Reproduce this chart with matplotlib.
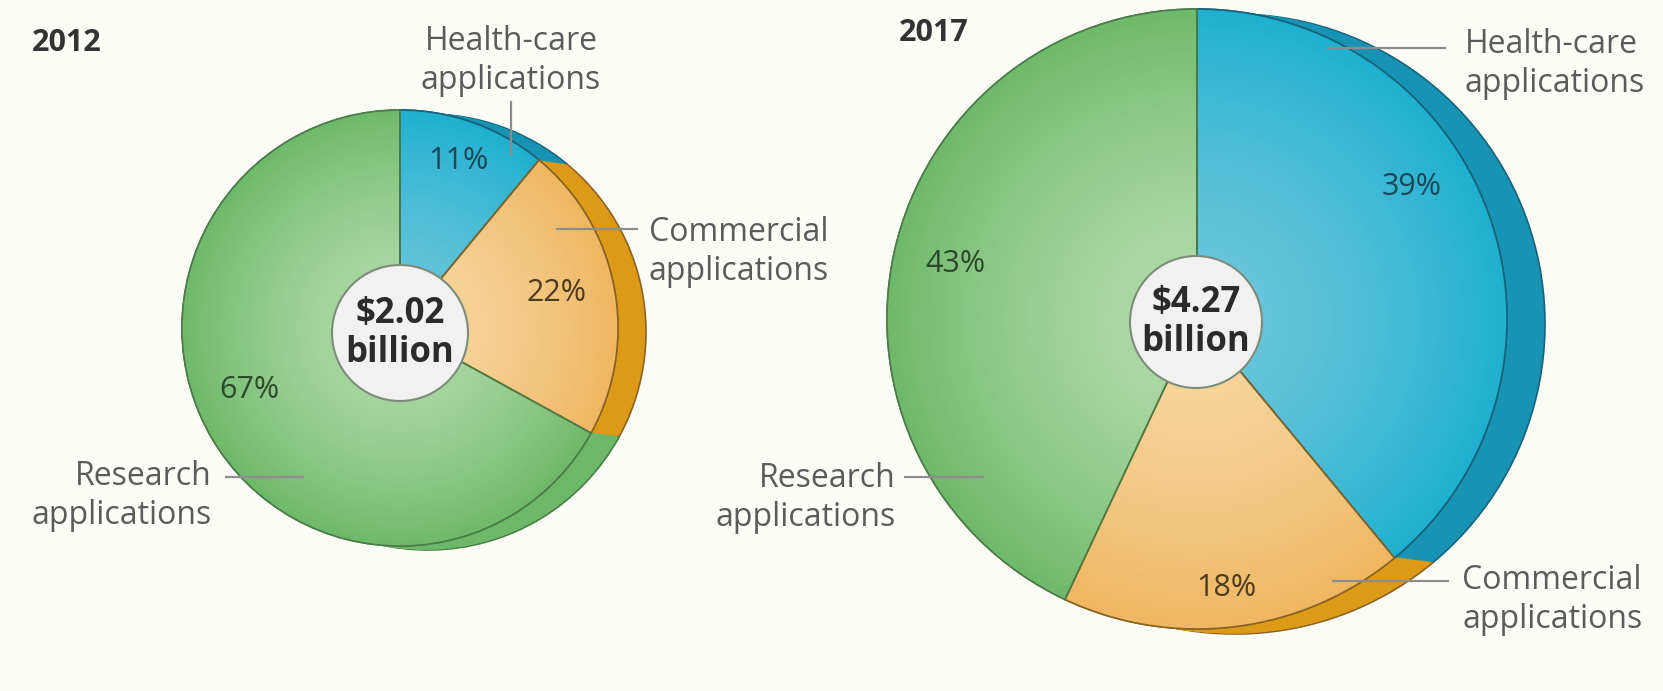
import numpy as np
import matplotlib.pyplot as plt
from matplotlib.patches import Circle, Wedge
from matplotlib.colors import to_rgb

plt.rcParams['font.family'] = ['Open Sans', 'DejaVu Sans']

# market split by application, in percent
years = ['2012', '2017']
totals = [2.02, 4.27]                      # billion US$
categories = ['Health-care', 'Commercial', 'Research']
shares_2012 = [11, 22, 67]
shares_2017 = [39, 18, 43]

W, H = 1663, 691
BG = '#fdfdf8'

face_edge = ['#1fb0d0', '#efb663', '#6fb96b']     # colour at the rim
face_mid = ['#6cc6dc', '#f7d79e', '#b0dba8']      # colour towards the middle
side_cols = ['#1893b3', '#dc9a17', '#6db769']
line_cols = ['#16637a', '#8a6422', '#4b7c48']
pct_cols = ['#1d4756', '#4d3b1d', '#2c4a2a']
LABEL = '#5b5b5b'
LEADER = '#8c8c8c'


def Y(y):
    # picture rows run downwards, data y upwards
    return H - y


def draw_pie(ax, cx, cy, r, depth, shares):
    cy = Y(cy)
    dx, dy = depth
    # thickness of the disc: copies of the slices stepped back to front
    for k in np.linspace(1, 0, 16)[:-1]:
        w, _ = ax.pie(shares, radius=r, center=(cx + dx * k, cy - dy * k),
                      startangle=90, counterclock=False, colors=side_cols,
                      wedgeprops=dict(linewidth=0), frame=True)
        if k == 1:
            for wi, c in zip(w, line_cols):
                wi.set_edgecolor(c)
                wi.set_linewidth(1.2)
    w, _ = ax.pie(shares, radius=r, center=(cx, cy), startangle=90,
                  counterclock=False, colors=face_edge, frame=True,
                  wedgeprops=dict(linewidth=1.2))
    # soft radial shading on the front face
    n = 300
    gx, gy = np.meshgrid(np.linspace(-1, 1, n), np.linspace(-1, 1, n))
    t = np.clip(np.hypot(gx, gy), 0, 1) ** 1.6
    for wi, c0, c1, lc in zip(w, face_mid, face_edge, line_cols):
        wi.set_edgecolor(lc)
        a, b = np.array(to_rgb(c0)), np.array(to_rgb(c1))
        img = a[None, None, :] * (1 - t[..., None]) + b[None, None, :] * t[..., None]
        im = ax.imshow(img, extent=(cx - r, cx + r, cy - r, cy + r),
                       origin='lower', zorder=1.5, interpolation='bilinear')
        im.set_clip_path(wi)
        wi.set_zorder(1)
        ax.add_patch(Wedge(wi.center, wi.r, wi.theta1, wi.theta2,
                           facecolor='none', edgecolor=lc,
                           linewidth=1.2, zorder=1.6))


fig = plt.figure(figsize=(W / 100, H / 100), dpi=100, facecolor=BG)
ax = fig.add_axes([0, 0, 1, 1])
ax.set_facecolor(BG)

# 2012 disc
draw_pie(ax, 400, 328, 218, (28, 4), shares_2012)
# 2017 disc
draw_pie(ax, 1197, 319, 310, (38, 5), shares_2017)

ax.set_xlim(0, W)
ax.set_ylim(0, H)
ax.set_aspect('auto')
ax.axis('off')

# totals in the middle
for (cx, cy, rc), tot in zip([(400, 333, 68), (1196, 322, 66)], totals):
    ax.add_patch(Circle((cx, Y(cy)), rc, facecolor='#f1f1f1', edgecolor='#7d8c7a',
                        linewidth=1.5, zorder=3))
    ax.text(cx, Y(cy - 19), '${:.2f}'.format(tot), ha='center', va='center',
            fontsize=25, fontweight='bold', color='#2b2b2b', zorder=4)
    ax.text(cx, Y(cy + 20), 'billion', ha='center', va='center',
            fontsize=25, fontweight='bold', color='#2b2b2b', zorder=4)

# year titles
ax.text(32, Y(43), years[0], ha='left', va='center', fontsize=22,
        fontweight='bold', color='#333333')
ax.text(899, Y(33), years[1], ha='left', va='center', fontsize=22,
        fontweight='bold', color='#333333')

# percentages
pct_pos = {
    '2012': [(458, 161), (556, 293), (249, 390)],
    '2017': [(1412, 187), (1226, 588), (955, 264)],
}
for yr, shares in zip(years, [shares_2012, shares_2017]):
    for (px, py), s, c in zip(pct_pos[yr], shares, pct_cols):
        ax.text(px, Y(py), '{}%'.format(s), ha='center', va='center',
                fontsize=22, color=c, zorder=4)

# category labels with leader lines: (text x, text y, ha, line pts)
labels = [
    (511, 61, 'center', [(511, 101), (511, 156)]),
    (649, 252, 'left', [(556, 229), (638, 229)]),
    (212, 496, 'right', [(225, 477), (304, 477)]),
    (1465, 64, 'left', [(1327, 48), (1446, 48)]),
    (1462, 600, 'left', [(1332, 581), (1449, 581)]),
    (896, 498, 'right', [(904, 477), (984, 477)]),
]
names = categories + categories
for (tx, ty, ha, pts), name in zip(labels, names):
    ax.text(tx, Y(ty), name + '\napplications', ha=ha, va='center',
            fontsize=23, color=LABEL, linespacing=1.22, multialignment=ha)
    (x0, y0), (x1, y1) = pts
    ax.plot([x0, x1], [Y(y0), Y(y1)], color=LEADER, lw=1.6, zorder=5,
            solid_capstyle='butt')

fig.savefig('out.png', dpi=100, facecolor=BG)
